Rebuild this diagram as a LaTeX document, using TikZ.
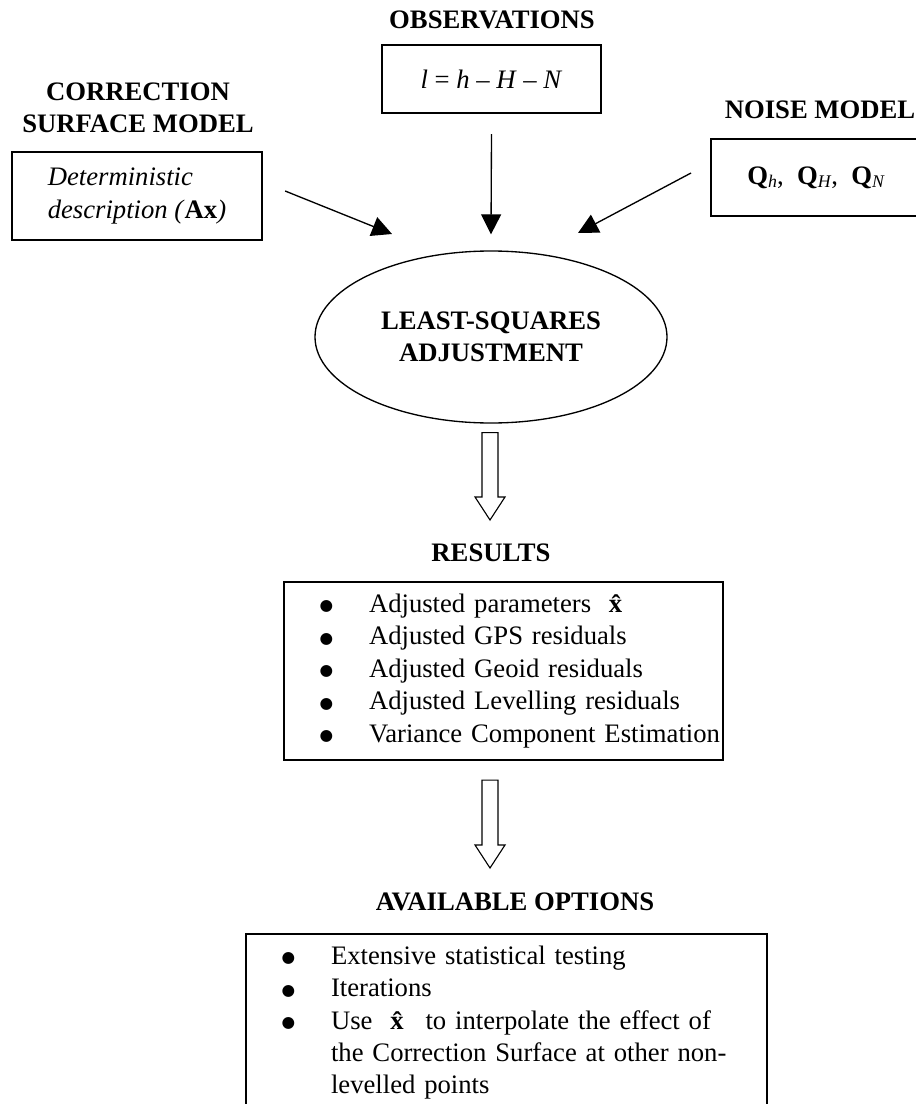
\documentclass[tikz,border=0pt]{standalone}
\usepackage{fontspec}
\setmainfont{Liberation Serif}
\newfontfamily\symfont{DejaVu Sans}
\usetikzlibrary{arrows.meta,shapes.geometric,calc}
\newcommand{\pxw}{0.45pt}
\newcommand{\qsub}[1]{\textbf{Q}\raisebox{-0.3ex}{\footnotesize\textit{#1}}}
\newcommand{\bitem}[1]{\hspace*{16pt}\makebox[22.25pt][l]{\raisebox{0.7pt}{\symfont\fontsize{7}{8}\selectfont ●}}\mbox{#1}}
\newcommand{\hollowdown}[2]{\draw[hollow] ($(#1)+(-8,0)$) -- ($(#2)+(-8,-23)$)
  -- ($(#2)+(-15,-23)$) -- (#2) -- ($(#2)+(15,-23)$) -- ($(#2)+(8,-23)$)
  -- ($(#1)+(8,0)$) -- cycle;}
\begin{document}
\begin{tikzpicture}[x=0.45pt, y=-0.45pt,
    ttl/.style={font=\bfseries\fontsize{12}{14.6}\selectfont, align=center},
    box/.style={draw, line width=1pt, inner sep=0pt, font=\fontsize{12}{14.6}\selectfont},
    arr/.style={line width=0.6pt, -{Triangle[length=9pt, width=9pt]}},
    hollow/.style={line width=0.5pt}]
\useasboundingbox (0,0) rectangle (915,1104);
\node[ttl] (obsT) at (492,20) {OBSERVATIONS};
\node[box, minimum width=219*\pxw, minimum height=68*\pxw] (obs) at (491.5,79)
  {\textit{l}~=~\textit{h}~–~\textit{H}~–~\textit{N}};
\node[ttl] (corT) at (138,108) {CORRECTION\\SURFACE MODEL};
\node[box, align=left, minimum width=250*\pxw, minimum height=88*\pxw] (det) at (137,196)
  {\textit{Deterministic}\\\textit{description (}\textbf{Ax}\textit{)}};
\node[ttl] (noiT) at (820,110) {NOISE MODEL};
\node[box, anchor=west, minimum width=210*\pxw, minimum height=77*\pxw] (noi) at (710,177.5)
  {\qsub{h},\ \ \qsub{H},\ \ \qsub{N}};
\node[ellipse, draw, line width=0.6pt, ttl, minimum width=352*\pxw, minimum height=172*\pxw]
  (lsa) at (491,337) {LEAST-SQUARES\\ADJUSTMENT};
\node[ttl] (resT) at (491,553) {RESULTS};
\node[box, align=left, text width=439*\pxw, minimum height=178*\pxw] (res) at (503.5,671)
  {\bitem{Adjusted parameters\ \ \textbf{\^x}}\\
   \bitem{Adjusted GPS residuals}\\
   \bitem{Adjusted Geoid residuals}\\
   \bitem{Adjusted Levelling residuals}\\
   \bitem{Variance Component Estimation}};
\node[ttl] (optT) at (515,902) {AVAILABLE OPTIONS};
\node[box, anchor=north, align=left, text width=521*\pxw, minimum height=177*\pxw] (opt) at (506.5,933)
  {\bitem{Extensive statistical testing}\\
   \bitem{Iterations}\\
   \bitem{Use\ \ \textbf{\^x}\ \ to interpolate the effect of}\\
   \hspace*{38.25pt}\mbox{the Correction Surface at other non-}\\
   \hspace*{38.25pt}\mbox{levelled points}};
\coordinate (tipL) at (392,234);
\coordinate (tipR) at (578,233);
\draw[arr] ([shift={(22,-5)}]det.east) -- (tipL);
\draw[arr] ([shift={(0,20)}]obs.south) -- ([shift={(0,-16)}]lsa.north);
\draw[arr] ([shift={(-19,-4.5)}]noi.west) -- (tipR);
\coordinate (d1a) at ([shift={(-1,9)}]lsa.south);
\coordinate (d1b) at (490,520);
\coordinate (d2a) at ([shift={(-13.5,19)}]res.south);
\coordinate (d2b) at (490,868);
\hollowdown{d1a}{d1b}
\hollowdown{d2a}{d2b}
\end{tikzpicture}
\end{document}
